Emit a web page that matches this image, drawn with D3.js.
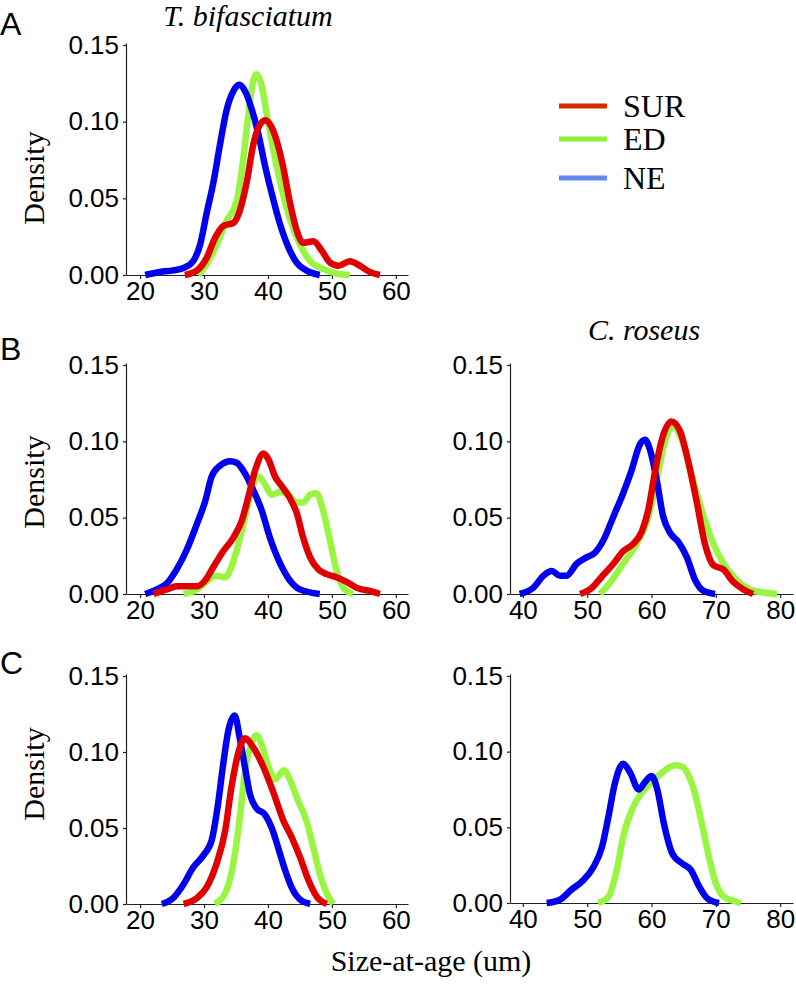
<!DOCTYPE html>
<html>
<head>
<meta charset="utf-8">
<script src="https://cdn.jsdelivr.net/npm/d3@7"></script>
<style>
  html, body { margin: 0; padding: 0; background: #fff; }
  svg { display: block; }
  .tick text { font-family: "Liberation Sans", Arial, Helvetica, sans-serif; font-size: 26px; fill: #000; }
  .serif { font-family: "Liberation Serif", "Times New Roman", Times, serif; fill: #000; }
  .sans { font-family: "Liberation Sans", Arial, Helvetica, sans-serif; fill: #000; }
</style>
</head>
<body>
<script>
// ---------------- DATA (size-at-age in um, density) ----------------
const seriesNames = ["SUR", "ED", "NE"];
const xTicksLeft = [20, 30, 40, 50, 60];
const xTicksRight = [40, 50, 60, 70, 80];
const yTicks = [0, 0.05, 0.10, 0.15];

// Panel A: T. bifasciatum
const A_NE = [[20.8,0],[23.1,0.002],[25.2,0.003],[27,0.005],[28.3,0.009],[29.4,0.020],[30.4,0.040],[31.5,0.061],[32.5,0.085],[33.5,0.107],[34.6,0.120],[35.5,0.124],[36.4,0.120],[37.4,0.109],[38.5,0.092],[39.5,0.072],[40.6,0.053],[41.9,0.033],[43.2,0.018],[44.5,0.008],[46,0.003],[48.1,0]];
const A_ED = [[29.1,0],[30.4,0.007],[32,0.020],[33.5,0.035],[35.1,0.048],[35.9,0.068],[36.7,0.096],[37.4,0.120],[38.2,0.131],[39,0.124],[39.8,0.105],[40.6,0.087],[41.9,0.061],[43.4,0.037],[45,0.020],[46.6,0.009],[48.6,0.004],[50.7,0.001],[52.8,0]];
const A_SUR = [[27,0],[28.9,0.003],[30.4,0.011],[31.7,0.024],[33,0.032],[34.6,0.034],[35.6,0.042],[36.7,0.061],[37.7,0.085],[38.6,0.097],[39.6,0.101],[40.5,0.097],[41.4,0.087],[42.4,0.070],[43.4,0.048],[44.5,0.029],[45.5,0.021],[47.1,0.022],[48.4,0.016],[49.7,0.008],[51,0.006],[52.8,0.009],[54.4,0.006],[55.9,0.002],[57.5,0]];

// Panel B left: T. bifasciatum
const B_NE = [[20.8,0],[22.6,0.003],[24.2,0.007],[25.7,0.016],[27.3,0.029],[28.9,0.046],[30.2,0.061],[31.2,0.077],[32.5,0.084],[34.1,0.087],[35.1,0.086],[36.4,0.079],[37.7,0.068],[39,0.055],[40.3,0.037],[41.9,0.020],[43.4,0.009],[45,0.003],[48.1,0]];
const B_ED = [[26.8,0],[28.9,0.003],[30.4,0.008],[31.7,0.012],[33.3,0.011],[34.3,0.018],[35.4,0.033],[36.4,0.050],[37.4,0.068],[38.5,0.077],[39.5,0.072],[40.6,0.065],[41.9,0.067],[43.2,0.065],[44.5,0.060],[45.5,0.060],[46.6,0.065],[47.6,0.066],[48.6,0.055],[49.7,0.035],[50.7,0.016],[51.8,0.004],[53.3,0]];
const B_SUR = [[22.1,0],[24.2,0.003],[25.7,0.005],[27.3,0.005],[28.9,0.005],[30.2,0.009],[31.5,0.018],[33,0.028],[34.6,0.037],[35.9,0.048],[36.9,0.063],[38,0.081],[39.3,0.092],[40.1,0.088],[41.1,0.077],[42.1,0.071],[43.4,0.063],[44.5,0.053],[45.5,0.037],[46.6,0.024],[47.9,0.016],[49.2,0.013],[50.7,0.011],[52.3,0.008],[53.9,0.004],[55.9,0.002],[57.5,0]];

// Panel B right: C. roseus
const Br_NE = [[39.5,0],[41.6,0.004],[43.2,0.012],[44.5,0.015],[45.8,0.012],[46.8,0.012],[48.4,0.020],[49.9,0.024],[51.2,0.027],[52.5,0.035],[54.1,0.051],[55.6,0.066],[56.9,0.081],[58.2,0.098],[59,0.101],[59.8,0.094],[60.8,0.075],[61.8,0.051],[62.9,0.040],[64.2,0.034],[65.5,0.024],[66.8,0.009],[68.1,0.002],[69.9,0]];
const Br_ED = [[52,0],[53.5,0.007],[55.6,0.020],[57.7,0.033],[59.5,0.050],[61,0.079],[62.3,0.103],[63.3,0.110],[64.7,0.101],[66.3,0.077],[68.1,0.051],[69.6,0.033],[71.2,0.020],[73.3,0.009],[75.3,0.003],[77.4,0.001],[79.5,0]];
const Br_SUR = [[48.9,0],[50.7,0.004],[52.2,0.011],[54.1,0.020],[55.6,0.028],[57.2,0.033],[58.5,0.041],[59.5,0.055],[60.5,0.079],[61.6,0.101],[63.1,0.113],[64.4,0.107],[65.7,0.087],[67,0.061],[68.3,0.033],[69.6,0.019],[71.2,0.016],[72.7,0.008],[74.3,0.003],[75.8,0]];

// Panel C left: T. bifasciatum
const C_NE = [[23.4,0],[25.2,0.004],[26.8,0.013],[28.3,0.024],[29.9,0.032],[31.2,0.042],[32.2,0.066],[33,0.092],[33.8,0.114],[34.8,0.124],[35.6,0.109],[36.4,0.090],[37.2,0.072],[38.2,0.063],[39.5,0.059],[40.6,0.050],[41.6,0.037],[42.7,0.022],[43.7,0.011],[45,0.003],[46.6,0]];
const C_ED = [[31.7,0],[33.3,0.007],[34.6,0.027],[35.6,0.057],[36.4,0.087],[37.4,0.105],[38.2,0.111],[39,0.105],[40.1,0.090],[41.1,0.082],[42.5,0.088],[43.4,0.082],[44.7,0.068],[46,0.055],[47.1,0.037],[48.1,0.020],[49.2,0.007],[50.2,0]];
const C_SUR = [[26.8,0],[28.9,0.004],[30.4,0.011],[32,0.027],[33.3,0.048],[34.3,0.077],[35.4,0.100],[36.4,0.109],[37.7,0.103],[39.3,0.090],[40.8,0.074],[42.4,0.055],[43.7,0.044],[45,0.031],[46.3,0.016],[47.6,0.005],[49.2,0]];

// Panel C right: C. roseus
const Cr_NE = [[43.7,0],[45.7,0.002],[47.6,0.009],[49.4,0.015],[51,0.024],[52.3,0.037],[53.3,0.057],[54.3,0.079],[55.6,0.092],[56.7,0.086],[58,0.075],[59,0.080],[60,0.084],[60.9,0.075],[61.9,0.053],[63.2,0.033],[64.8,0.026],[66.1,0.022],[67.4,0.011],[68.7,0.003],[70.5,0]];
const Cr_ED = [[51.7,0],[53.3,0.004],[54.6,0.022],[55.6,0.044],[57,0.062],[58.5,0.073],[60.1,0.080],[61.6,0.086],[63.7,0.091],[64.8,0.090],[65.8,0.084],[66.9,0.070],[67.9,0.051],[69,0.029],[70,0.013],[71.3,0.004],[73.1,0.001],[73.9,0]];

// ---------------- STYLE / LAYOUT ----------------
const curveColor = { SUR: "#e00000", ED: "#99f542", NE: "#0000ee" };
const legendColor = { SUR: "#d42a00", ED: "#8cf03c", NE: "#6488ee" };

const W = 796, H = 984;
const svg = d3.select("body").append("svg").attr("width", W).attr("height", H);

const leftX = { domain: [17.8, 61.9], range: [126, 408], ticks: xTicksLeft };
const rightX = { domain: [38, 82], range: [510, 793], ticks: xTicksRight };

const panels = [
  { xs: leftX,  yr: [275, 45],  lines: [["ED", A_ED], ["NE", A_NE], ["SUR", A_SUR]] },
  { xs: leftX,  yr: [594, 365], lines: [["ED", B_ED], ["NE", B_NE], ["SUR", B_SUR]] },
  { xs: rightX, yr: [594, 365], lines: [["ED", Br_ED], ["NE", Br_NE], ["SUR", Br_SUR]] },
  { xs: leftX,  yr: [904, 676], lines: [["ED", C_ED], ["NE", C_NE], ["SUR", C_SUR]] },
  { xs: rightX, yr: [903, 676], lines: [["ED", Cr_ED], ["NE", Cr_NE]] }
];

panels.forEach(p => {
  const x = d3.scaleLinear().domain(p.xs.domain).range(p.xs.range);
  const y0 = p.yr[0], y15 = p.yr[1];
  const y = d3.scaleLinear().domain([0, 0.15]).range([y0, y15]);
  const yAxisScale = d3.scaleLinear().domain([0, 0.1513]).range([y0, y(0.1513)]);

  const g = svg.append("g");

  const xa = g.append("g").attr("transform", `translate(0,${y0})`)
    .call(d3.axisBottom(x).tickValues(p.xs.ticks).tickSize(4).tickPadding(3).tickSizeOuter(0).tickFormat(d3.format("d")));
  const ya = g.append("g").attr("transform", `translate(${p.xs.range[0]},0)`)
    .call(d3.axisLeft(yAxisScale).tickValues(yTicks).tickSize(3).tickPadding(4).tickSizeOuter(0).tickFormat(d3.format(".2f")));
  [xa, ya].forEach(a => {
    a.selectAll("path.domain").attr("stroke", "#222").attr("stroke-width", 1.2);
    a.selectAll(".tick line").attr("stroke", "#222").attr("stroke-width", 1.2);
    a.selectAll(".tick text").attr("fill", "#000");
  });

  const line = d3.line().x(d => x(d[0])).y(d => y(d[1])).curve(d3.curveMonotoneX);
  p.lines.forEach(([name, data]) => {
    g.append("path").datum(data)
      .attr("d", line)
      .attr("fill", "none")
      .attr("stroke", curveColor[name])
      .attr("stroke-width", 6.5)
      .attr("stroke-linejoin", "round")
      .attr("stroke-linecap", "butt");
  });
});

// Panel letters
[["A", 35], ["B", 360], ["C", 674]].forEach(([t, yb]) => {
  svg.append("text").attr("class", "sans").attr("x", 0).attr("y", yb)
    .attr("font-size", 32).text(t);
});

// Titles
svg.append("text").attr("class", "serif").attr("x", 248).attr("y", 26)
  .attr("text-anchor", "middle").attr("font-size", 30).attr("font-style", "italic")
  .text("T. bifasciatum");
svg.append("text").attr("class", "serif").attr("x", 644).attr("y", 340)
  .attr("text-anchor", "middle").attr("font-size", 30).attr("font-style", "italic")
  .text("C. roseus");

// Y labels
[178, 482, 774].forEach(cy => {
  svg.append("text").attr("class", "serif")
    .attr("transform", `translate(44,${cy}) rotate(-90)`)
    .attr("text-anchor", "middle").attr("font-size", 30).text("Density");
});

// X label
svg.append("text").attr("class", "serif").attr("x", 431).attr("y", 971)
  .attr("text-anchor", "middle").attr("font-size", 30).text("Size-at-age (um)");

// Legend
const legendRows = { SUR: 106, ED: 139, NE: 178 };
seriesNames.forEach(n => {
  const yy = legendRows[n];
  svg.append("line").attr("x1", 559).attr("x2", 607).attr("y1", yy).attr("y2", yy)
    .attr("stroke", legendColor[n]).attr("stroke-width", 5);
  svg.append("text").attr("class", "serif").attr("x", 623).attr("y", yy)
    .attr("dy", "0.35em").attr("font-size", 32).text(n);
});
</script>
</body>
</html>
